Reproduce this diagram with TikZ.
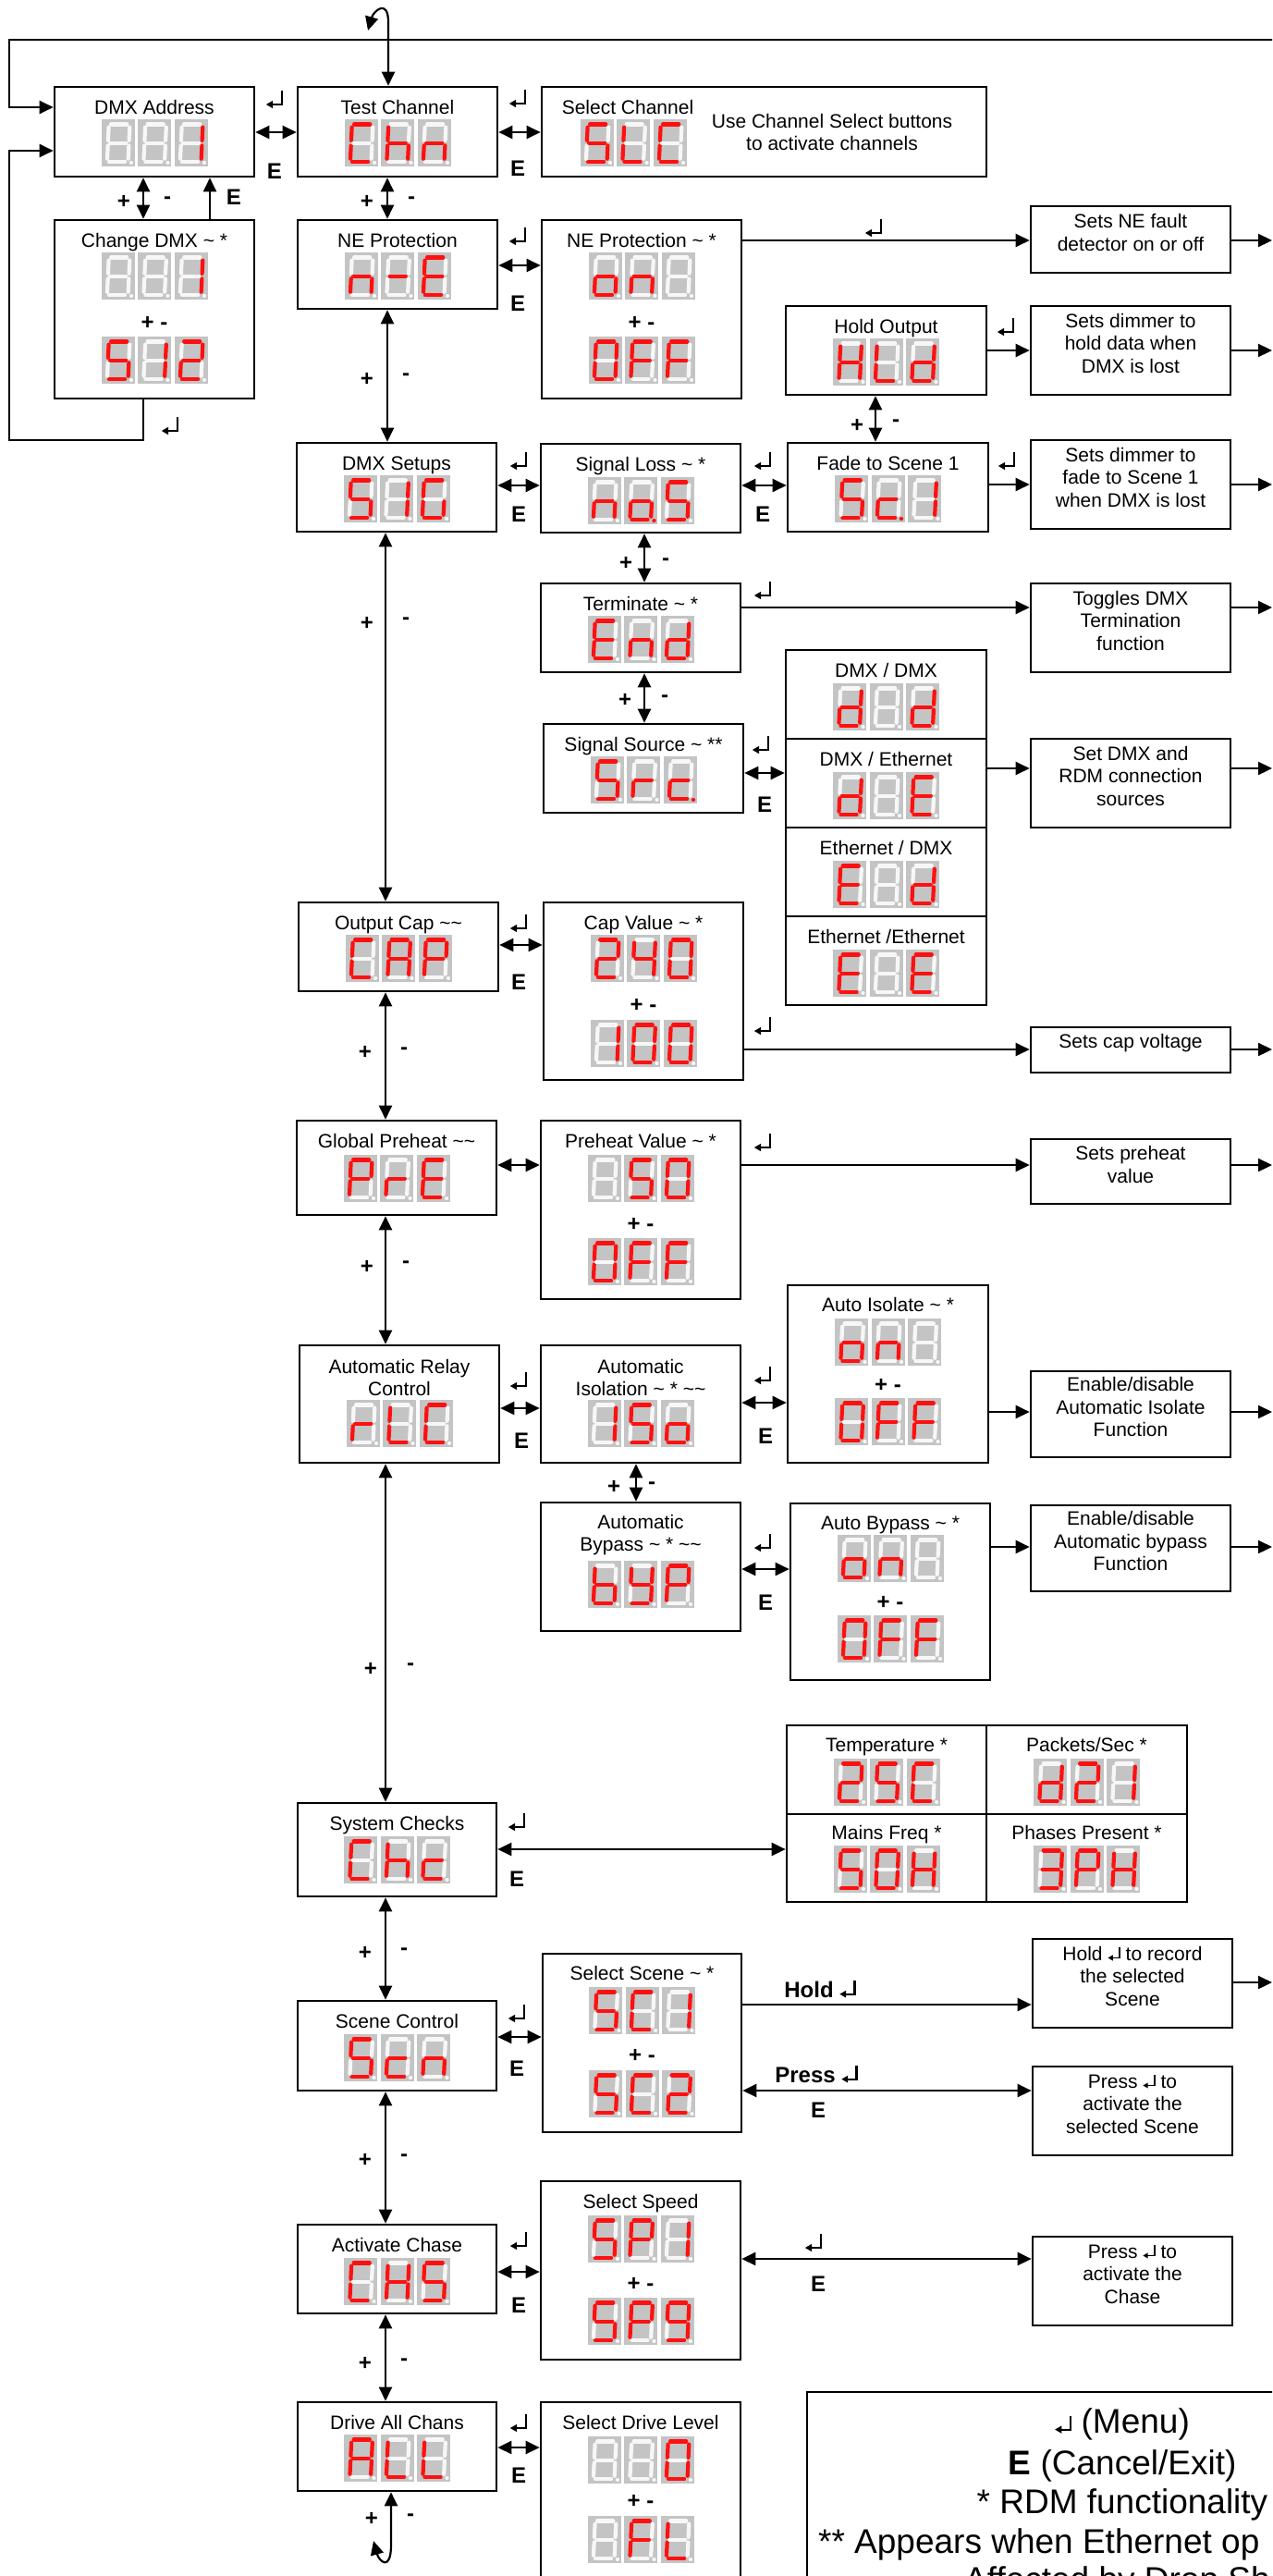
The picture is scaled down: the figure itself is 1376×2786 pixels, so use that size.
\documentclass[tikz,border=0pt]{standalone}
\usepackage{fontspec}
\setmainfont{Liberation Sans}
\usetikzlibrary{arrows.meta,fit}
\definecolor{segR}{HTML}{FF1010}
\definecolor{segW}{HTML}{F7F7F7}
\definecolor{dgray}{HTML}{C4C4C4}
\def\qB{z}
\def\qZero{a,b,c,d,e,f}
\def\qOne{b,c}
\def\qTwo{a,b,g,e,d}
\def\qThree{a,b,g,c,d}
\def\qFour{f,g,b,c}
\def\qS{a,f,g,c,d}
\def\qNine{a,b,c,d,f,g}
\def\qA{a,b,c,e,f,g}
\def\qb{c,d,e,f,g}
\def\qC{a,d,e,f}
\def\qc{d,e,g}
\def\qcp{d,e,g,p}
\def\qd{b,c,d,e,g}
\def\qE{a,d,e,f,g}
\def\qF{a,e,f,g}
\def\qG{a,c,d,e,f}
\def\qH{b,c,e,f,g}
\def\qh{c,e,f,g}
\def\qL{d,e,f}
\def\qn{c,e,g}
\def\qo{c,d,e,g}
\def\qop{c,d,e,g,p}
\def\qP{a,b,e,f,g}
\def\qr{e,g}
\def\qY{b,c,d,f,g}
\def\qM{g}
\newcommand\dig[3]{%
 \begin{scope}[shift={(#1,#2)}]
  \fill[dgray] (0,0) rectangle (36,51);
  \foreach \sgn/\xa/\ya/\xb/\yb in {a/10.6/5.5/27.8/5.5,b/30.8/8.6/30.1/22.9,c/29.9/28.4/29.2/42.7,d/8.4/46/25.6/46,e/7.2/28.4/6.5/42.7,f/8.1/8.6/7.4/22.9,g/9.6/25.7/26.8/25.7,p/32.4/47/32.6/47}{%
   \gdef\segcol{segW}%
   \edef\tmpb{\sgn}%
   \foreach \sgm in #3 {\edef\tmpa{\sgm}\ifx\tmpa\tmpb\gdef\segcol{segR}\fi}%
   \draw[line width=4.2pt,line cap=round,color=\segcol] (\xa,\ya)--(\xb,\yb);
  }%
 \end{scope}}
\newcommand\disp[5]{\dig{#1-57.5}{#2}{#3}\dig{#1-18}{#2}{#4}\dig{#1+21.5}{#2}{#5}}
\newcommand\entin[2]{\tikz[baseline=0pt,x=#1,y=#1]{\draw[line width=#2,line cap=butt] (0.9,1)--(0.9,0.21)--(0.3,0.21); \fill (0,0.21)--(0.38,0.43)--(0.38,-0.01)--cycle;}}
\tikzset{
 box/.style={draw, line width=2.6pt, inner sep=0pt},
 con/.style={line width=2.2pt},
 arr/.style={con, -{Triangle[length=15pt,width=14pt]}},
 dbl/.style={con, {Triangle[length=15pt,width=14pt]}-{Triangle[length=15pt,width=14pt]}},
 lbl/.style={inner sep=0pt, align=center, font=\fontsize{21}{24.5}\selectfont},
 lbs/.style={inner sep=0pt, text height=15.5pt, text depth=4.5pt, font=\fontsize{21}{24.5}\selectfont},
 bld/.style={inner sep=0pt, font=\fontsize{24}{26}\selectfont\bfseries},
 legf/.style={inner sep=0pt, font=\fontsize{37}{42}\selectfont},
 ent/.style={inner sep=0pt},
}
\begin{document}
\begin{tikzpicture}[x=1pt,y=-1pt]
\useasboundingbox (0,0) rectangle (1376,2786);
\clip (0,0) rectangle (1376,2786);
% ---------- boxes
\node[box,fit={(59,94)(275,191)}] (a1) {};
\node[box,fit={(59,238)(275,431)}] (a2) {};
\node[box,fit={(322,94)(538,191)}] (b1) {};
\node[box,fit={(586,94)(1067,191)}] (c1) {};
\node[box,fit={(322,238)(538,334)}] (b2) {};
\node[box,fit={(586,238)(802,431)}] (c2) {};
\node[box,lbl,fit={(1115,223)(1331,295)}] (e1) {Sets NE fault\\detector on or off};
\node[box,fit={(850,331)(1067,427)}] (d1) {};
\node[box,lbl,fit={(1115,331)(1331,427)}] (e2) {Sets dimmer to\\hold data when\\DMX is lost};
\node[box,fit={(321,479)(537,575)}] (b3) {};
\node[box,fit={(585,480)(801,576)}] (c3) {};
\node[box,fit={(852,479)(1069,575)}] (d2) {};
\node[box,lbl,fit={(1115,476)(1331,572)}] (e3) {Sets dimmer to\\fade to Scene 1\\when DMX is lost};
\node[box,fit={(585,631)(801,727)}] (c4) {};
\node[box,lbl,fit={(1115,631)(1331,727)}] (e4) {Toggles DMX\\Termination\\function};
\node[box,fit={(588,783)(804,879)}] (c5) {};
\node[box,fit={(850,703)(1067,799)}] (d3a) {};
\node[box,fit={(850,799)(1067,895)}] (d3b) {};
\node[box,fit={(850,895)(1067,991)}] (d3c) {};
\node[box,fit={(850,991)(1067,1087)}] (d3d) {};
\node[box,lbl,fit={(1115,799)(1331,895)}] (e5) {Set DMX and\\RDM connection\\sources};
\node[box,fit={(323,976)(539,1072)}] (b4) {};
\node[box,fit={(588,976)(804,1168)}] (c6) {};
\node[box,lbl,fit={(1115,1111)(1331,1160)}] (e6) {Sets cap voltage};
\node[box,fit={(321,1212)(537,1314)}] (b5) {};
\node[box,fit={(585,1212)(801,1405)}] (c7) {};
\node[box,lbl,fit={(1115,1232)(1331,1302)}] (e7) {Sets preheat\\value};
\node[box,fit={(324,1455)(540,1582)}] (b6) {};
\node[box,fit={(585,1455)(801,1582)}] (c8) {};
\node[box,fit={(852,1390)(1069,1582)}] (d4) {};
\node[box,lbl,fit={(1115,1483)(1331,1576)}] (e8) {Enable/disable\\Automatic Isolate\\Function};
\node[box,fit={(585,1625)(801,1764)}] (c9) {};
\node[box,fit={(855,1626)(1071,1817)}] (d5) {};
\node[box,lbl,fit={(1115,1628)(1331,1721)}] (e9) {Enable/disable\\Automatic bypass\\Function};
\node[box,fit={(851,1866)(1067,1962)}] (g1) {};
\node[box,fit={(1067,1866)(1284,1962)}] (g2) {};
\node[box,fit={(851,1962)(1067,2057)}] (g3) {};
\node[box,fit={(1067,1962)(1284,2057)}] (g4) {};
\node[box,fit={(322,1950)(537,2051)}] (b7) {};
\node[box,fit={(322,2164)(537,2261)}] (b8) {};
\node[box,fit={(587,2113)(802,2306)}] (c10) {};
\node[box,lbl,fit={(1117,2097)(1333,2193)}] (e10) {Hold \entin{14pt}{1.5pt} to record\\the selected\\Scene};
\node[box,lbl,fit={(1117,2235)(1333,2331)}] (e11) {Press \entin{14pt}{1.5pt} to\\activate the\\selected Scene};
\node[box,fit={(585,2359)(801,2552)}] (c11) {};
\node[box,fit={(322,2406)(537,2502)}] (b9) {};
\node[box,lbl,fit={(1117,2419)(1333,2515)}] (e12) {Press \entin{14pt}{1.5pt} to\\activate the\\Chase};
\node[box,fit={(322,2598)(537,2694)}] (b10) {};
\node[box,fit={(585,2598)(801,2830)}] (c12) {};
\node[box,fit={(873,2587)(1430,2870)}] (leg) {};
% ---------- displays
\disp{167}{129}{\qB}{\qB}{\qOne}
\disp{167}{273}{\qB}{\qB}{\qOne}
\disp{167}{364}{\qS}{\qOne}{\qTwo}
\disp{430}{129}{\qC}{\qh}{\qn}
\disp{685}{129}{\qS}{\qL}{\qC}
\disp{430}{273}{\qn}{\qM}{\qE}
\disp{694}{273}{\qo}{\qn}{\qB}
\disp{694}{364}{\qZero}{\qF}{\qF}
\disp{958.5}{366}{\qH}{\qL}{\qd}
\disp{429}{514}{\qS}{\qOne}{\qG}
\disp{693}{516}{\qn}{\qop}{\qS}
\disp{960.5}{514}{\qS}{\qcp}{\qOne}
\disp{693}{666}{\qE}{\qn}{\qd}
\disp{696}{818}{\qS}{\qr}{\qcp}
\disp{958.5}{739}{\qd}{\qB}{\qd}
\disp{958.5}{835}{\qd}{\qB}{\qE}
\disp{958.5}{931}{\qE}{\qB}{\qd}
\disp{958.5}{1027}{\qE}{\qB}{\qE}
\disp{431}{1011}{\qC}{\qA}{\qP}
\disp{696}{1011}{\qTwo}{\qFour}{\qZero}
\disp{696}{1103}{\qOne}{\qZero}{\qZero}
\disp{429}{1249}{\qP}{\qr}{\qE}
\disp{693}{1249}{\qB}{\qS}{\qZero}
\disp{693}{1339}{\qZero}{\qF}{\qF}
\disp{432}{1514}{\qr}{\qL}{\qC}
\disp{693}{1514}{\qOne}{\qS}{\qo}
\disp{960.5}{1426}{\qo}{\qn}{\qB}
\disp{960.5}{1512}{\qZero}{\qF}{\qF}
\disp{693}{1688}{\qb}{\qY}{\qP}
\disp{963}{1660}{\qo}{\qn}{\qB}
\disp{963}{1747}{\qZero}{\qF}{\qF}
\disp{959}{1902}{\qTwo}{\qS}{\qC}
\disp{1175.5}{1902}{\qd}{\qTwo}{\qOne}
\disp{959}{1996}{\qS}{\qZero}{\qH}
\disp{1175.5}{1996}{\qThree}{\qP}{\qH}
\disp{429.5}{1986}{\qC}{\qh}{\qc}
\disp{429.5}{2200}{\qS}{\qc}{\qn}
\disp{694.5}{2149}{\qS}{\qC}{\qOne}
\disp{694.5}{2239}{\qS}{\qC}{\qTwo}
\disp{693}{2396}{\qS}{\qP}{\qOne}
\disp{693}{2485}{\qS}{\qP}{\qNine}
\disp{429.5}{2442}{\qC}{\qH}{\qS}
\disp{429.5}{2633}{\qA}{\qL}{\qL}
\disp{693}{2635}{\qB}{\qB}{\qZero}
\disp{693}{2721}{\qB}{\qF}{\qL}
% ---------- labels
\node[lbs] (ta1) at (167,118) {DMX Address};
\node[lbs] (ta2) at (167,262) {Change DMX \textasciitilde{} *};
\node[bld] (pa2) at (167,349) {+ -};
\node[lbs] (tb1) at (430,118) {Test Channel};
\node[lbs] (tc1) at (679,118) {Select Channel};
\node[lbl] (uc1) at (900,143) {Use Channel Select buttons\\to activate channels};
\node[lbs] (tb2) at (430,262) {NE Protection};
\node[lbs] (tc2) at (694,262) {NE Protection \textasciitilde{} *};
\node[bld] (pc2) at (694,349) {+ -};
\node[lbs] (td1) at (958.5,355) {Hold Output};
\node[lbs] (tb3) at (429,503) {DMX Setups};
\node[lbs] (tc3) at (693,504) {Signal Loss \textasciitilde{} *};
\node[lbs] (td2) at (960.5,503) {Fade to Scene 1};
\node[lbs] (tc4) at (693,655) {Terminate \textasciitilde{} *};
\node[lbs] (tc5) at (696,807) {Signal Source \textasciitilde{} **};
\node[lbs] (td3a) at (958.5,727) {DMX / DMX};
\node[lbs] (td3b) at (958.5,823) {DMX / Ethernet};
\node[lbs] (td3c) at (958.5,919) {Ethernet / DMX};
\node[lbs] (td3d) at (958.5,1015) {Ethernet /Ethernet};
\node[lbs] (tb4) at (431,1000) {Output Cap \textasciitilde\textasciitilde};
\node[lbs] (tc6) at (696,1000) {Cap Value \textasciitilde{} *};
\node[bld] (pc6) at (696,1087) {+ -};
\node[lbs] (tb5) at (429,1236) {Global Preheat \textasciitilde\textasciitilde};
\node[lbs] (tc7) at (693,1236) {Preheat Value \textasciitilde{} *};
\node[bld] (pc7) at (693,1324) {+ -};
\node[lbl] (tb6) at (432,1490) {Automatic Relay\\Control};
\node[lbl] (tc8) at (693,1490) {Automatic\\Isolation \textasciitilde{} * \textasciitilde\textasciitilde};
\node[lbs] (td4) at (960.5,1413) {Auto Isolate \textasciitilde{} *};
\node[bld] (pd4) at (960.5,1498) {+ -};
\node[lbl] (tc9) at (693,1660) {Automatic\\Bypass \textasciitilde{} * \textasciitilde\textasciitilde};
\node[lbs] (td5) at (963,1649) {Auto Bypass \textasciitilde{} *};
\node[bld] (pd5) at (963,1733) {+ -};
\node[lbs] (tg1) at (959,1889) {Temperature *};
\node[lbs] (tg2) at (1175.5,1889) {Packets/Sec *};
\node[lbs] (tg3) at (959,1984) {Mains Freq *};
\node[lbs] (tg4) at (1175.5,1984) {Phases Present *};
\node[lbs] (tb7) at (429.5,1974) {System Checks};
\node[lbs] (tb8) at (429.5,2188) {Scene Control};
\node[lbs] (tc10) at (694.5,2136) {Select Scene \textasciitilde{} *};
\node[bld] (pc10) at (694.5,2223) {+ -};
\node[lbs] (tc11) at (693,2383) {Select Speed};
\node[bld] (pc11) at (693,2470) {+ -};
\node[lbs] (tb9) at (429.5,2430) {Activate Chase};
\node[lbs] (tb10) at (429.5,2622) {Drive All Chans};
\node[lbs] (tc12) at (693,2622) {Select Drive Level};
\node[bld] (pc12) at (693,2705) {+ -};
% ---------- legend
\node[legf] (lg1) at (1214,2622) {\entin{19pt}{2.2pt} (Menu)};
\node[legf] (lg2) at (1214,2667) {\textbf{E} (Cancel/Exit)};
\node[legf] (lg3) at (1214,2709) {* RDM functionality};
\node[legf,anchor=west] (lg4) at (885,2752) {** Appears when Ethernet op};
\node[legf,anchor=west] (lg5) at (1043,2793) {Affected by Drop Sh};
% ---------- enter symbols
\foreach \xx/\yy [count=\i] in {297/107,560/106,184/460,560/255,945/246,1088/353,561/498,825/498,1089/498,825/638,823/805,561/998,825/1109,825/1235,561/1493,825/1487,825/1668,559/1970,559/2177,561/2423,880/2425,561/2620}
  {\node[ent] (k\i) at (\xx,\yy) {\entin{19pt}{2.4pt}};}
% ---------- E labels
\foreach \xx/\yy [count=\i] in {297/185,253/213,560/182,560/328,561/556,825/556,827/870,561/1062,564/1558,828/1553,828/1733,559/2032,559/2237,885/2282,561/2493,885/2470,561/2677}
  {\node[bld] (xe\i) at (\xx,\yy) {E};}
% ---------- plus / minus
\foreach \xa/\ya/\xb/\yb [count=\i] in {134/218/181/217,397/218/445/217,397/410/439/408,927/460/969/458,677/609/720/608,676/757/719/756,397/674/439/672,395/1138/437/1137,397/1370/439/1368,664/1608/705/1607,401/1805/444/1803,395/2112/437/2111,395/2336/437/2334,395/2556/437/2555,402/2724/444/2723}
  {\node[bld] (xp\i) at (\xa,\ya) {+}; \node[bld] (xm\i) at (\xb,\yb) {-};}
\node[bld] (hl) at (887,2151) {Hold \entin{18pt}{2.2pt}};
\node[bld] (pr) at (883,2243) {Press \entin{18pt}{2.2pt}};
% ---------- connectors
\coordinate (tl) at (1380,43);
\draw[arr] (tl) -- (10,43) -- (10,116) -- (a1.west |- 0,116);
\coordinate (tc) at (398,33);
\draw[dbl] (tc) .. controls (404,12) and (420,-2) .. (420,24) -- (b1.north -| 420,0);
\coordinate (bc) at (404,2748);
\draw[dbl] (bc) .. controls (410,2770) and (423,2782) .. (423,2752) -- (b10.south -| 423,0);
\draw[dbl] (a1.south -| 155,0) -- (a2.north -| 155,0);
\draw[arr] (a2.north -| 227,0) -- (a1.south -| 227,0);
\draw[arr] (a2.south -| 155,0) -- (155,476) -- (10,476) -- (10,163) -- (a1.west |- 0,163);
\draw[dbl] (b1.south -| 419,0) -- (b2.north -| 419,0);
\draw[dbl] (b2.south -| 419,0) -- (b3.north -| 419,0);
\draw[dbl] (d1.south -| 947,0) -- (d2.north -| 947,0);
\draw[dbl] (c3.south -| 697,0) -- (c4.north -| 697,0);
\draw[dbl] (c4.south -| 697,0) -- (c5.north -| 697,0);
\draw[dbl] (b3.south -| 417,0) -- (b4.north -| 417,0);
\draw[dbl] (b4.south -| 417,0) -- (b5.north -| 417,0);
\draw[dbl] (b5.south -| 417,0) -- (b6.north -| 417,0);
\draw[dbl] (c8.south -| 688,0) -- (c9.north -| 688,0);
\draw[dbl] (b6.south -| 417,0) -- (b7.north -| 417,0);
\draw[dbl] (b7.south -| 417,0) -- (b8.north -| 417,0);
\draw[dbl] (b8.south -| 417,0) -- (b9.north -| 417,0);
\draw[dbl] (b9.south -| 417,0) -- (b10.north -| 417,0);
\draw[dbl] (a1.east |- 0,143) -- (b1.west |- 0,143);
\draw[dbl] (b1.east |- 0,143) -- (c1.west |- 0,143);
\draw[dbl] (b2.east |- 0,287) -- (c2.west |- 0,287);
\draw[arr] (c2.east |- 0,260) -- (e1.west |- 0,260);
\draw[arr] (d1.east |- 0,379) -- (e2.west |- 0,379);
\draw[dbl] (b3.east |- 0,525) -- (c3.west |- 0,525);
\draw[dbl] (c3.east |- 0,525) -- (d2.west |- 0,525);
\draw[arr] (d2.east |- 0,524) -- (e3.west |- 0,524);
\draw[arr] (c4.east |- 0,657) -- (e4.west |- 0,657);
\draw[dbl] (c5.east |- 0,836) -- (d3b.west |- 0,836);
\draw[arr] (d3b.east |- 0,831) -- (e5.west |- 0,831);
\draw[dbl] (b4.east |- 0,1022) -- (c6.west |- 0,1022);
\draw[arr] (c6.east |- 0,1135) -- (e6.west |- 0,1135);
\draw[dbl] (b5.east |- 0,1260) -- (c7.west |- 0,1260);
\draw[arr] (c7.east |- 0,1260) -- (e7.west |- 0,1260);
\draw[dbl] (b6.east |- 0,1523) -- (c8.west |- 0,1523);
\draw[dbl] (c8.east |- 0,1517) -- (d4.west |- 0,1517);
\draw[arr] (d4.east |- 0,1527) -- (e8.west |- 0,1527);
\draw[dbl] (c9.east |- 0,1697) -- (d5.west |- 0,1697);
\draw[arr] (d5.east |- 0,1673) -- (e9.west |- 0,1673);
\draw[dbl] (b7.east |- 0,2000) -- (g3.west |- 0,2000);
\draw[dbl] (b8.east |- 0,2203) -- (c10.west |- 0,2203);
\draw[arr] (c10.east |- 0,2168) -- (e10.west |- 0,2168);
\draw[dbl] (c10.east |- 0,2261) -- (e11.west |- 0,2261);
\draw[dbl] (b9.east |- 0,2457) -- (c11.west |- 0,2457);
\draw[dbl] (c11.east |- 0,2443) -- (e12.west |- 0,2443);
\draw[dbl] (b10.east |- 0,2647) -- (c12.west |- 0,2647);
\foreach \nd/\yy [count=\i] in {e1/260,e2/379,e3/524,e4/657,e5/831,e6/1135,e7/1260,e8/1527,e9/1673,e10/2144}
  {\coordinate (rr\i) at (1376,\yy); \draw[arr] (\nd.east |- rr\i) -- (rr\i);}
\end{tikzpicture}
\end{document}
